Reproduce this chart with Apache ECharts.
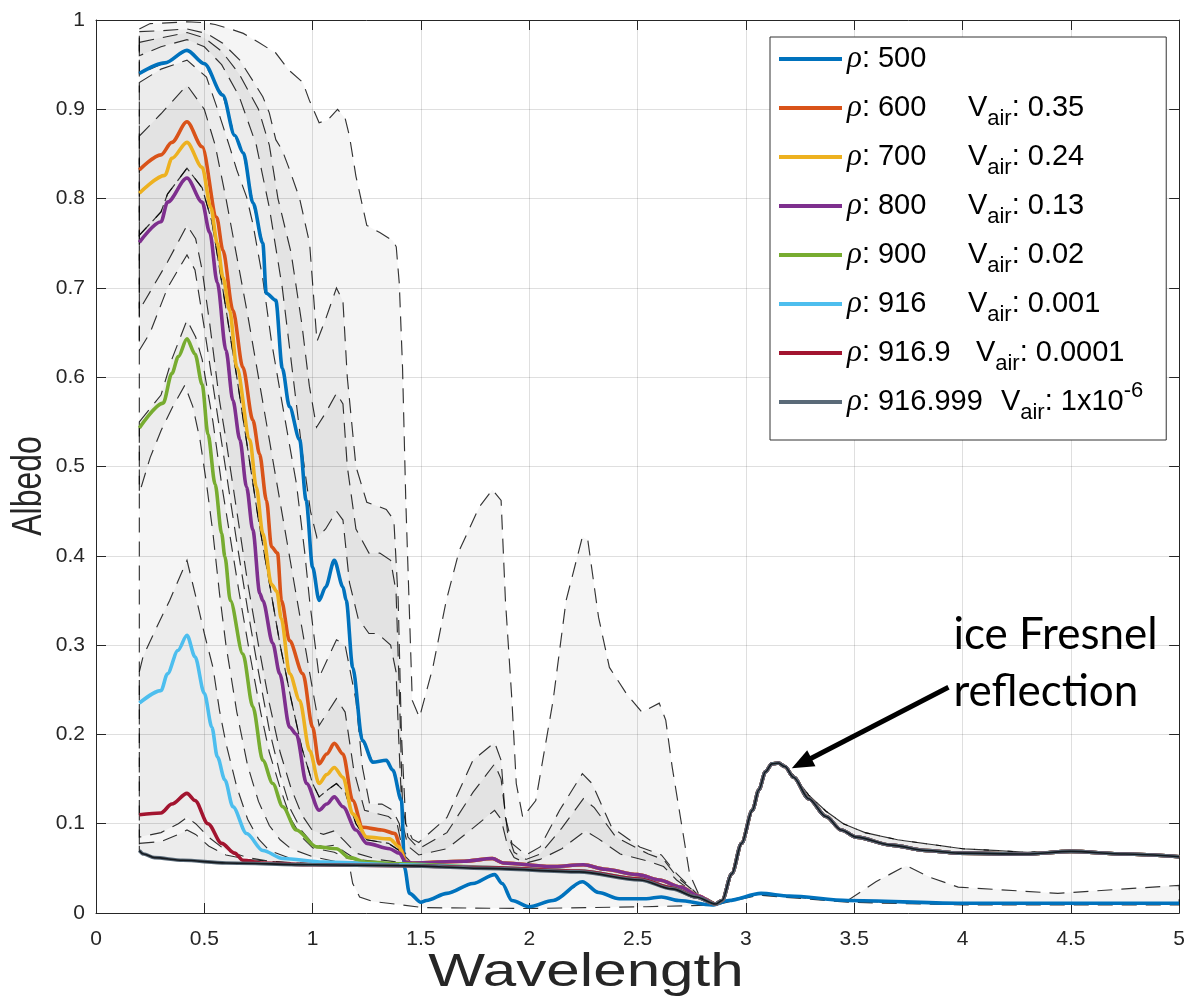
<!DOCTYPE html>
<html><head><meta charset="utf-8">
<script src="https://cdn.jsdelivr.net/npm/echarts/dist/echarts.min.js"></script>
<style>html,body{margin:0;padding:0;background:#fff}#c{width:1188px;height:999px}</style>
</head><body><div id="c"></div>
<script>
// ---------------- DATA ----------------
// shared long-wavelength parts (all dense-ice curves converge)
const tailFresnel = [[2.86,0.010],[2.89,0.014],[2.935,0.044],[2.98,0.078],[3.03,0.115],[3.06,0.138],[3.09,0.158],[3.12,0.167],[3.15,0.168],[3.18,0.164],[3.22,0.152],[3.29,0.128],[3.37,0.108],[3.44,0.093],[3.51,0.085],[3.67,0.076],[3.83,0.070],[3.98,0.067],[4.29,0.066],[4.5,0.069],[4.75,0.066],[5.0,0.063]];
const tailFresnelHi = [[2.86,0.011],[2.89,0.014],[2.935,0.044],[2.98,0.078],[3.03,0.115],[3.06,0.138],[3.09,0.158],[3.12,0.167],[3.15,0.168],[3.18,0.165],[3.22,0.154],[3.29,0.132],[3.37,0.114],[3.45,0.100],[3.55,0.090],[3.7,0.082],[3.85,0.077],[4.0,0.072],[4.3,0.068],[4.5,0.070],[4.75,0.067],[5.0,0.064]];
const midCommon = [[1.46,0.056],[1.7,0.058],[1.83,0.061],[1.88,0.056],[2.1,0.052],[2.25,0.054],[2.35,0.049],[2.5,0.043],[2.6,0.037],[2.7,0.029],[2.78,0.019]];
const midLow = [[1.8,0.051],[2.23,0.047],[2.51,0.038],[2.66,0.028],[2.77,0.018]];
const tailPorous = [[2.86,0.011],[3.06,0.021],[3.47,0.013],[4.0,0.011],[5.0,0.011]];

// solid curves
const rho500 = [[0.2,0.94],[0.318,0.952],[0.42,0.966],[0.5,0.951],[0.585,0.916],[0.64,0.871],[0.68,0.851],[0.725,0.795],[0.77,0.75],[0.786,0.694],[0.83,0.686],[0.86,0.61],[0.893,0.567],[0.94,0.53],[0.97,0.462],[1.0,0.387],[1.03,0.35],[1.06,0.365],[1.1,0.395],[1.14,0.365],[1.155,0.35],[1.185,0.275],[1.23,0.193],[1.278,0.169],[1.34,0.171],[1.37,0.16],[1.41,0.126],[1.424,0.051],[1.447,0.022],[1.5,0.012],[1.525,0.014],[1.62,0.022],[1.74,0.033],[1.84,0.043],[1.875,0.033],[1.92,0.014],[2.0,0.007],[2.11,0.014],[2.245,0.035],[2.32,0.023],[2.415,0.016],[2.54,0.016],[2.61,0.018],[2.69,0.014],[2.845,0.009],[2.92,0.014],[3.07,0.022],[3.2,0.019],[3.47,0.014],[3.98,0.011],[5.0,0.011]];
const rho600Head = [[0.2,0.832],[0.3,0.849],[0.35,0.863],[0.42,0.886],[0.49,0.858],[0.557,0.779],[0.586,0.742],[0.632,0.675],[0.678,0.611],[0.724,0.552],[0.755,0.514],[0.787,0.462],[0.81,0.41],[0.838,0.403],[0.856,0.35],[0.893,0.305],[0.955,0.268],[1.0,0.208],[1.03,0.167],[1.065,0.178],[1.1,0.19],[1.14,0.178],[1.185,0.126],[1.23,0.096],[1.32,0.093],[1.38,0.089],[1.41,0.07],[1.43,0.057]];
const rho700Head = [[0.2,0.806],[0.318,0.826],[0.35,0.845],[0.42,0.863],[0.49,0.835],[0.53,0.79],[0.56,0.75],[0.586,0.712],[0.617,0.675],[0.65,0.611],[0.71,0.53],[0.74,0.477],[0.77,0.425],[0.81,0.368],[0.835,0.36],[0.855,0.33],[0.894,0.268],[0.94,0.238],[0.986,0.182],[1.03,0.145],[1.065,0.155],[1.1,0.163],[1.14,0.152],[1.185,0.111],[1.25,0.085],[1.355,0.083],[1.4,0.074],[1.43,0.057]];
const rho800Head = [[0.2,0.751],[0.3,0.774],[0.33,0.796],[0.42,0.823],[0.49,0.796],[0.525,0.762],[0.56,0.706],[0.6,0.63],[0.632,0.574],[0.664,0.53],[0.695,0.477],[0.724,0.429],[0.756,0.358],[0.77,0.35],[0.816,0.302],[0.848,0.268],[0.894,0.208],[0.925,0.2],[0.972,0.145],[1.03,0.115],[1.065,0.122],[1.1,0.13],[1.14,0.119],[1.2,0.093],[1.25,0.078],[1.355,0.072],[1.4,0.067],[1.43,0.057]];
const rho900Head = [[0.2,0.543],[0.31,0.571],[0.35,0.604],[0.38,0.623],[0.42,0.643],[0.457,0.626],[0.49,0.592],[0.517,0.536],[0.55,0.48],[0.58,0.425],[0.595,0.399],[0.62,0.35],[0.678,0.29],[0.724,0.231],[0.77,0.171],[0.816,0.145],[0.862,0.119],[0.925,0.093],[1.018,0.074],[1.11,0.072],[1.17,0.062],[1.25,0.057],[1.415,0.055]];
const rho916Head = [[0.2,0.235],[0.3,0.249],[0.33,0.268],[0.378,0.294],[0.42,0.311],[0.457,0.287],[0.5,0.246],[0.535,0.208],[0.56,0.175],[0.595,0.149],[0.632,0.119],[0.695,0.089],[0.77,0.07],[0.862,0.061],[1.05,0.057],[1.4,0.054]];
const rho9169Head = [[0.2,0.11],[0.3,0.112],[0.35,0.122],[0.42,0.134],[0.457,0.126],[0.517,0.1],[0.58,0.078],[0.64,0.067],[0.678,0.059],[0.77,0.056],[1.0,0.054],[1.4,0.053]];
const rho916999Head = [[0.2,0.07],[0.22,0.066],[0.27,0.062],[0.4,0.059],[0.6,0.056],[1.0,0.054],[1.4,0.053],[1.8,0.05],[2.23,0.046],[2.51,0.037],[2.66,0.027],[2.77,0.018]];

// dashed envelope curves (edges of the shaded bands)
const top500 = [[0.2,0.99],[0.25,0.996],[0.35,0.997],[0.42,0.998],[0.5,0.997],[0.55,0.995],[0.62,0.99],[0.68,0.985],[0.75,0.975],[0.83,0.963],[0.89,0.944],[0.955,0.93],[0.985,0.91],[1.03,0.885],[1.07,0.888],[1.115,0.9],[1.15,0.89],[1.17,0.87],[1.2,0.825],[1.25,0.77],[1.31,0.762],[1.37,0.753],[1.386,0.746],[1.4,0.705],[1.415,0.611],[1.43,0.462],[1.445,0.35],[1.46,0.238],[1.493,0.219],[1.555,0.275],[1.617,0.35],[1.677,0.406],[1.77,0.455],[1.83,0.474],[1.87,0.462],[1.89,0.35],[1.92,0.238],[1.94,0.145],[1.97,0.107],[2.03,0.126],[2.11,0.238],[2.17,0.35],[2.245,0.421],[2.27,0.418],[2.32,0.331],[2.37,0.275],[2.45,0.245],[2.52,0.225],[2.6,0.235],[2.63,0.216],[2.66,0.163],[2.71,0.089],[2.74,0.044],[2.78,0.022],[2.86,0.011],[3.06,0.022],[3.47,0.014],[3.6,0.035],[3.74,0.053],[3.85,0.04],[3.98,0.029],[4.44,0.022],[5.0,0.031]];
const a500Head = [[0.2,0.987],[0.3,0.988],[0.42,0.99],[0.51,0.985],[0.585,0.974],[0.664,0.955],[0.724,0.932],[0.77,0.914],[0.8,0.896],[0.83,0.866],[0.86,0.854],[0.894,0.832],[0.94,0.80],[0.986,0.75],[1.02,0.64],[1.06,0.665],[1.11,0.70],[1.14,0.685],[1.16,0.6],[1.2,0.5],[1.25,0.46],[1.34,0.452],[1.375,0.44],[1.395,0.35],[1.41,0.2],[1.43,0.1],[1.46,0.083],[1.49,0.079],[1.62,0.107],[1.74,0.171],[1.84,0.191],[1.87,0.171],[1.89,0.107],[1.92,0.078],[1.985,0.065],[2.05,0.074],[2.14,0.115],[2.245,0.156],[2.29,0.145],[2.38,0.096],[2.51,0.074],[2.61,0.065],[2.68,0.044],[2.78,0.02]];
const b500Head = [[0.2,0.975],[0.3,0.98],[0.42,0.986],[0.5,0.98],[0.58,0.965],[0.66,0.94],[0.75,0.9],[0.8,0.86],[0.84,0.8],[0.9,0.74],[0.95,0.66],[0.985,0.59],[1.018,0.544],[1.06,0.56],[1.11,0.582],[1.14,0.57],[1.16,0.5],[1.2,0.43],[1.26,0.403],[1.31,0.403],[1.36,0.395],[1.385,0.36],[1.4,0.25],[1.415,0.12],[1.44,0.085],[1.49,0.072],[1.62,0.09],[1.74,0.135],[1.84,0.167],[1.87,0.15],[1.9,0.09],[1.93,0.068],[1.985,0.06],[2.05,0.066],[2.15,0.095],[2.25,0.128],[2.3,0.118],[2.4,0.085],[2.55,0.066],[2.62,0.06],[2.68,0.041],[2.78,0.02]];
const c500Head = [[0.2,0.96],[0.3,0.97],[0.42,0.978],[0.5,0.97],[0.58,0.95],[0.66,0.915],[0.74,0.86],[0.8,0.79],[0.86,0.7],[0.91,0.6],[0.95,0.52],[0.99,0.45],[1.02,0.42],[1.06,0.43],[1.11,0.45],[1.14,0.44],[1.17,0.37],[1.21,0.33],[1.26,0.313],[1.3,0.313],[1.36,0.3],[1.385,0.27],[1.4,0.18],[1.415,0.1],[1.44,0.075],[1.49,0.065],[1.62,0.072],[1.74,0.095],[1.84,0.115],[1.87,0.105],[1.9,0.075],[1.93,0.062],[1.985,0.056],[2.05,0.06],[2.15,0.072],[2.26,0.092],[2.32,0.083],[2.42,0.066],[2.55,0.058],[2.62,0.052],[2.68,0.037],[2.78,0.019]];
const bot500 = [[0.2,0.068],[0.25,0.063],[0.35,0.06],[0.5,0.057],[0.8,0.055],[1.1,0.054],[1.17,0.053],[1.185,0.033],[1.217,0.018],[1.276,0.013],[1.415,0.009],[1.51,0.006],[2.0,0.005],[2.54,0.007],[2.86,0.009],[3.06,0.02],[3.47,0.012],[4.0,0.009],[5.0,0.009]];
const dHead = [[0.2,0.93],[0.3,0.945],[0.42,0.955],[0.51,0.936],[0.557,0.903],[0.617,0.858],[0.65,0.832],[0.695,0.802],[0.724,0.772],[0.77,0.71],[0.81,0.64],[0.857,0.574],[0.925,0.481],[0.963,0.405],[0.986,0.35],[1.03,0.264],[1.07,0.285],[1.11,0.306],[1.15,0.3],[1.2,0.238],[1.23,0.163],[1.263,0.122],[1.32,0.122],[1.37,0.115],[1.4,0.1],[1.42,0.07],[1.45,0.058]];
const eHead = [[0.2,0.87],[0.3,0.895],[0.42,0.927],[0.5,0.9],[0.55,0.86],[0.6,0.8],[0.65,0.735],[0.7,0.67],[0.75,0.6],[0.8,0.53],[0.85,0.46],[0.9,0.39],[0.95,0.32],[1.0,0.25],[1.03,0.21],[1.07,0.225],[1.11,0.24],[1.15,0.225],[1.19,0.16],[1.24,0.115],[1.35,0.108],[1.39,0.1],[1.42,0.065],[1.45,0.058]];
const fHead = [[0.2,0.759],[0.3,0.785],[0.33,0.805],[0.42,0.834],[0.49,0.812],[0.535,0.774],[0.56,0.737],[0.595,0.684],[0.65,0.6],[0.7,0.52],[0.75,0.44],[0.8,0.37],[0.85,0.3],[0.9,0.24],[0.95,0.185],[1.0,0.145],[1.03,0.13],[1.07,0.138],[1.11,0.145],[1.15,0.135],[1.2,0.1],[1.25,0.082],[1.35,0.078],[1.4,0.07],[1.43,0.058]];
const gHead = [[0.2,0.675],[0.33,0.729],[0.42,0.77],[0.46,0.755],[0.49,0.72],[0.525,0.66],[0.57,0.574],[0.6,0.53],[0.65,0.45],[0.7,0.37],[0.75,0.3],[0.8,0.235],[0.85,0.18],[0.9,0.14],[0.95,0.11],[1.0,0.092],[1.05,0.088],[1.1,0.092],[1.15,0.08],[1.2,0.067],[1.3,0.06],[1.42,0.056]];
const hHead = [[0.2,0.63],[0.25,0.65],[0.33,0.7],[0.42,0.737],[0.457,0.72],[0.5,0.655],[0.55,0.575],[0.6,0.495],[0.65,0.415],[0.7,0.34],[0.75,0.27],[0.8,0.205],[0.85,0.155],[0.9,0.115],[0.95,0.092],[1.0,0.078],[1.05,0.074],[1.1,0.076],[1.15,0.068],[1.2,0.06],[1.4,0.055]];
const iHead = [[0.2,0.55],[0.3,0.58],[0.35,0.62],[0.42,0.664],[0.46,0.645],[0.49,0.62],[0.54,0.55],[0.58,0.48],[0.62,0.42],[0.66,0.36],[0.71,0.29],[0.76,0.225],[0.8,0.18],[0.85,0.14],[0.9,0.105],[0.95,0.085],[1.0,0.073],[1.1,0.068],[1.15,0.062],[1.25,0.057],[1.4,0.055]];
const jHead = [[0.2,0.47],[0.25,0.51],[0.3,0.54],[0.35,0.565],[0.41,0.591],[0.447,0.567],[0.48,0.53],[0.51,0.481],[0.54,0.425],[0.57,0.358],[0.6,0.3],[0.65,0.225],[0.7,0.165],[0.75,0.125],[0.8,0.098],[0.85,0.082],[0.9,0.072],[1.0,0.063],[1.1,0.058],[1.4,0.055]];
const kHead = [[0.2,0.27],[0.217,0.287],[0.28,0.32],[0.34,0.35],[0.42,0.395],[0.465,0.35],[0.5,0.313],[0.54,0.275],[0.57,0.227],[0.6,0.19],[0.65,0.141],[0.7,0.105],[0.75,0.083],[0.8,0.07],[0.9,0.061],[1.0,0.057],[1.4,0.054]];
const lHead = [[0.2,0.085],[0.3,0.09],[0.38,0.1],[0.42,0.107],[0.46,0.1],[0.52,0.085],[0.6,0.07],[0.7,0.062],[0.8,0.058],[1.0,0.055],[1.4,0.053]];
const mHead = [[0.2,0.078],[0.3,0.08],[0.38,0.088],[0.42,0.093],[0.46,0.088],[0.52,0.075],[0.6,0.065],[0.7,0.06],[0.9,0.056],[1.1,0.055],[1.4,0.053]];

const seriesNames = ['ρ: 500','ρ: 600','ρ: 700','ρ: 800','ρ: 900','ρ: 916','ρ: 916.9','ρ: 916.999'];
const legendRich = ['{p|ρ}{t|: 500}','{p|ρ}{n|: 600}{v|V}{s|air}{t|: 0.35}','{p|ρ}{n|: 700}{v|V}{s|air}{t|: 0.24}','{p|ρ}{n|: 800}{v|V}{s|air}{t|: 0.13}','{p|ρ}{n|: 900}{v|V}{s|air}{t|: 0.02}','{p|ρ}{n|: 916}{v|V}{s|air}{t|: 0.001}','{p|ρ}{n2|: 916.9}{v|V}{s|air}{t|: 0.0001}','{p|ρ}{n3|: 916.999}{v|V}{s|air}{t|: 1x10}{e|-6}'];
const annotationText = ['ice Fresnel','reflection'];
const axisTitles = {x: 'Wavelength', y: 'Albedo'};

// ---------------- build ----------------
const cat = (...parts) => [].concat(...parts);
const solidData = [
  rho500,
  cat(rho600Head, midCommon, tailFresnel),
  cat(rho700Head, midCommon, tailFresnel),
  cat(rho800Head, midCommon, tailFresnel),
  cat(rho900Head, midLow, tailFresnel),
  cat(rho916Head, midLow, tailFresnel),
  cat(rho9169Head, midLow, tailFresnel),
  cat(rho916999Head, tailFresnel)
];
const colors = ['#0072BD','#D95319','#EDB120','#7E2F8E','#77AC30','#4DBEEE','#A2142F','#5a6a78'];

const A500 = cat(a500Head, tailPorous), B500 = cat(b500Head, tailPorous), C500 = cat(c500Head, tailPorous);
const D = cat(dHead, midCommon, tailFresnelHi), E = cat(eHead, midCommon, tailFresnel);
const F = cat(fHead, midCommon, tailFresnel), G = cat(gHead, midCommon, tailFresnel);
const H = cat(hHead, midLow, tailFresnel), I = cat(iHead, midLow, tailFresnelHi);
const J = cat(jHead, midLow, tailFresnel), K = cat(kHead, midLow, tailFresnel);
const L = cat(lHead, midLow, tailFresnel), M = cat(mHead, midLow, tailFresnel);
const bands = [[top500, bot500],[A500, rho500],[B500, C500],[D, G],[E, F],[F, H],[I, J],[K, L],[M, solidData[7]]];

const FONT = 'Liberation Sans';
const series = [];
bands.forEach(([up, lo]) => series.push({
  type: 'custom', data: [[0, 0]], silent: true, z: 2,
  renderItem: (params, api) => {
    const pts = up.map(p => api.coord(p)).concat(lo.slice().reverse().map(p => api.coord(p)));
    return {type: 'polygon', shape: {points: pts},
      style: {fill: 'rgba(0,0,0,0.04)', stroke: 'rgba(0,0,0,0.8)', lineWidth: 1.15, lineDash: [15, 9]}};
  }
}));
solidData.forEach((d, i) => series.push({
  name: seriesNames[i], type: 'line', data: d, showSymbol: false, smooth: 0.3, smoothMonotone: 'x',
  lineStyle: {width: 3.6, color: colors[i]}, itemStyle: {color: colors[i]}, z: 3, silent: true
}));
// dark core of the densest curve (same data, drawn thin on top)
series.push({type: 'line', data: solidData[7], showSymbol: false, smooth: 0.3, smoothMonotone: 'x', silent: true, z: 4,
  lineStyle: {width: 1.6, color: '#151a1f'}});
// arrow of the annotation
series.push({type: 'line', data: [], silent: true, z: 5,
  markLine: {silent: true, symbol: ['none', 'triangle'], symbolSize: [18, 22], animation: false,
    lineStyle: {color: '#000', width: 4.8, type: 'solid'}, label: {show: false},
    data: [[{coord: [3.935, 0.2528]}, {coord: [3.257, 0.1677]}]]}});

const axisCol = '#262626';
const baseAxis = {
  axisLine: {show: true, onZero: false, lineStyle: {color: axisCol, width: 1}},
  axisTick: {show: true, inside: true, length: 10, lineStyle: {color: axisCol}},
  splitLine: {show: true, lineStyle: {color: 'rgba(38,38,38,0.15)', width: 1}}
};
const mirror = {
  axisLine: {show: true, onZero: false, lineStyle: {color: axisCol, width: 1}},
  axisTick: {show: true, inside: true, length: 10, lineStyle: {color: axisCol}},
  axisLabel: {show: false}, splitLine: {show: false}
};
const richBase = {fontFamily: FONT, fontSize: 29, lineHeight: 44, color: '#000'};
const option = {
  animation: false,
  grid: {left: 96, right: 7, top: 20, bottom: 86},
  xAxis: [
    Object.assign({type: 'value', min: 0, max: 5, interval: 0.5,
      axisLabel: {fontFamily: FONT, fontSize: 21, color: axisCol, margin: 16}}, baseAxis),
    Object.assign({type: 'value', min: 0, max: 5, interval: 0.5, position: 'top'}, mirror)
  ],
  yAxis: [
    Object.assign({type: 'value', min: 0, max: 1, interval: 0.1,
      axisLabel: {fontFamily: FONT, fontSize: 21, color: axisCol, margin: 11}}, baseAxis),
    Object.assign({type: 'value', min: 0, max: 1, interval: 0.1, position: 'right'}, mirror)
  ],
  legend: {
    data: seriesNames, orient: 'vertical', left: 770, top: 37, padding: [0, 23, 16, 9], itemGap: 5,
    itemWidth: 63, itemHeight: 4, itemTextGap: 8, icon: 'rect', selectedMode: false,
    borderColor: '#333', borderWidth: 1, backgroundColor: '#fff',
    formatter: name => legendRich[seriesNames.indexOf(name)],
    textStyle: Object.assign({}, richBase, {rich: {
      p: {fontFamily: 'Liberation Serif', fontStyle: 'italic', fontSize: 31, lineHeight: 44, color: '#000'},
      t: Object.assign({}, richBase),
      n: Object.assign({}, richBase, {width: 106}),
      n2: Object.assign({}, richBase, {width: 114}),
      n3: Object.assign({}, richBase, {width: 139}),
      v: Object.assign({}, richBase),
      s: {fontFamily: FONT, fontSize: 22, lineHeight: 22, verticalAlign: 'bottom', color: '#000'},
      e: {fontFamily: FONT, fontSize: 22, lineHeight: 22, verticalAlign: 'top', color: '#000'}
    }})
  },
  series: series
};
const chart = echarts.init(document.getElementById('c'), null, {renderer: 'canvas'});
chart.setOption(option);
const t1 = chart.convertToPixel({gridIndex: 0}, [3.958, 0.311]);
const t2 = chart.convertToPixel({gridIndex: 0}, [3.958, 0.248]);
const textStyle = (s) => ({text: s, font: '44px Lato', fill: '#000', textAlign: 'left', textVerticalAlign: 'middle', align: 'left', verticalAlign: 'middle'});
chart.setOption({graphic: [
  {type: 'text', x: t1[0], y: t1[1], z: 10, style: textStyle(annotationText[0])},
  {type: 'text', x: t2[0], y: t2[1], z: 10, style: textStyle(annotationText[1])},
  {type: 'text', x: 586, y: 973, scaleX: 1.28, z: 10,
    style: {text: axisTitles.x, font: '47px "Liberation Sans"', fill: axisCol, textAlign: 'center', textVerticalAlign: 'middle', align: 'center', verticalAlign: 'middle'}},
  {type: 'text', x: 29, y: 486, rotation: Math.PI / 2, scaleX: 0.76, z: 10,
    style: {text: axisTitles.y, font: '42px "Liberation Sans"', fill: axisCol, textAlign: 'center', textVerticalAlign: 'middle', align: 'center', verticalAlign: 'middle'}}
]});
</script></body></html>
